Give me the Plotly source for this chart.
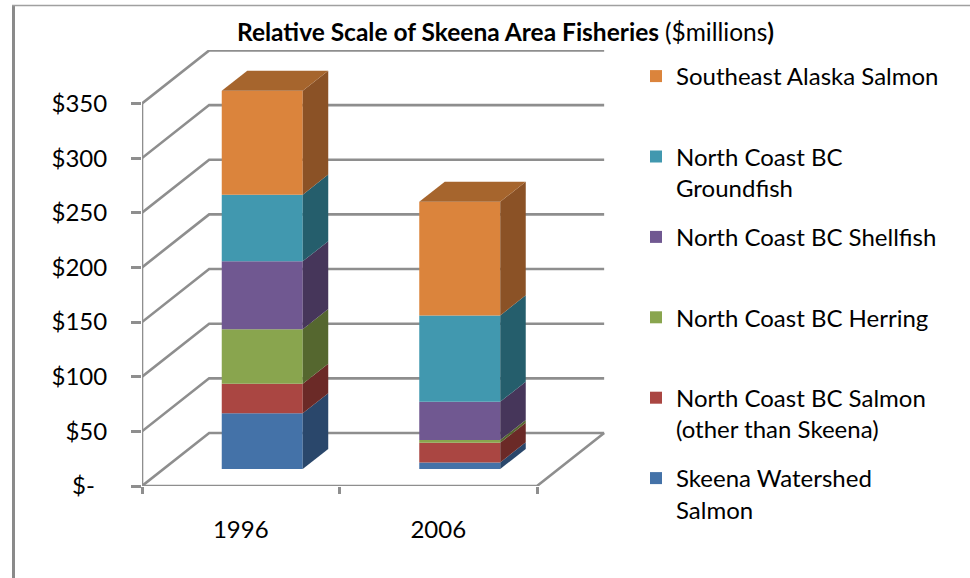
import plotly.graph_objects as go

# ---------------- data ($ millions) ----------------
years = ["1996", "2006"]
skeena_watershed_salmon = [51, 6]
nc_bc_salmon_other = [27, 18]
nc_bc_herring = [50, 2.5]
nc_bc_shellfish = [62, 35]
nc_bc_groundfish = [61, 79]
se_alaska_salmon = [95, 104]

series_names = [
    "Skeena Watershed<br>Salmon",
    "North Coast BC Salmon<br>(other than Skeena)",
    "North Coast BC Herring<br>\u00a0",
    "North Coast BC Shellfish<br>\u00a0",
    "North Coast BC<br>Groundfish",
    "Southeast Alaska Salmon<br>\u00a0",
]
series_values = [skeena_watershed_salmon, nc_bc_salmon_other, nc_bc_herring,
                 nc_bc_shellfish, nc_bc_groundfish, se_alaska_salmon]

y_tick_values = [0, 50, 100, 150, 200, 250, 300, 350]
y_tick_labels = ["$-\u00a0\u00a0", "$50", "$100", "$150", "$200", "$250", "$300", "$350"]

# ---------------- styles ----------------
front_colors = ["rgb(68,114,168)", "rgb(170,70,66)", "rgb(137,165,78)",
                "rgb(112,88,145)", "rgb(65,152,175)", "rgb(219,132,60)"]
side_colors = ["rgb(42,71,107)", "rgb(107,42,39)", "rgb(85,103,47)",
               "rgb(70,54,90)", "rgb(37,94,108)", "rgb(139,82,38)"]
top_color = "rgb(166,101,45)"
grid_color = "#8e8e8e"
FONT = "Lato"

# oblique "3-D" projection: depth vector in data units
KX = 0.34      # x shift for full depth (category units)
KY = 48.5      # y shift for full depth ($ units)
D0, D1 = 0.32, 0.70   # bar front / back depth
BAR_W = 0.41

# pixel layout of plot area
ML, MR_PX, MT, MB = 142, 607, 50, 92
W, H = 970, 578
PW = MR_PX - ML
PH = H - MT - MB
X_RANGE = [0, PW / 197.5]
Y_RANGE = [0, PH / 1.093]

fig = go.Figure()

n_cat = len(years)
cat_front = [i + 0.5 for i in range(n_cat)]
bar_x = [c + D0 * KX for c in cat_front]
dd = D1 - D0

cum = [0.0] * n_cat
side_traces = []
for s, (name, vals) in enumerate(zip(series_names, series_values)):
    base = [cum[i] + D0 * KY for i in range(n_cat)]
    clean = name.replace("<br>\u00a0", "").replace("<br>", " ")
    fig.add_trace(go.Bar(
        x=bar_x, y=vals, base=base, width=BAR_W, name=name,
        marker=dict(color=front_colors[s], line=dict(width=0)),
        legendgroup=f"g{s}", legendrank=len(series_names) - s, showlegend=True,
        hovertemplate=f"{clean}<br>%{{customdata}}: $%{{y}}M<extra></extra>",
        customdata=years,
    ))
    # right side faces
    for i in range(n_cat):
        xr = bar_x[i] + BAR_W / 2
        b = base[i]
        t = base[i] + vals[i]
        side_traces.append(go.Scatter(
            x=[xr, xr + dd * KX, xr + dd * KX, xr, xr],
            y=[b, b + dd * KY, t + dd * KY, t, b],
            fill="toself", fillcolor=side_colors[s], mode="lines",
            line=dict(width=0, color=side_colors[s]),
            showlegend=False, hoverinfo="skip",
        ))
    cum = [cum[i] + vals[i] for i in range(n_cat)]

# top faces of the stacks
for i in range(n_cat):
    xl = bar_x[i] - BAR_W / 2
    xr = bar_x[i] + BAR_W / 2
    T = cum[i] + D0 * KY
    side_traces.append(go.Scatter(
        x=[xl, xl + dd * KX, xr + dd * KX, xr, xl],
        y=[T, T + dd * KY, T + dd * KY, T, T],
        fill="toself", fillcolor=top_color, mode="lines",
        line=dict(width=0, color=top_color),
        showlegend=False, hoverinfo="skip",
    ))
for tr in side_traces:
    fig.add_trace(tr)

# walls / floor / gridlines as shapes below the traces
shapes = []
gl = dict(color=grid_color, width=2.6)
for v in y_tick_values:
    shapes.append(dict(type="path", xref="x", yref="y", layer="below",
                       path=f"M 0,{v} L {KX},{v + KY} L {n_cat + KX},{v + KY}",
                       line=gl))
# floor front edge, right edge, vertical axis line
shapes.append(dict(type="path", xref="x", yref="y", layer="below",
                   path=f"M 0,0 L {n_cat},0 L {n_cat + KX},{KY}", line=gl))
shapes.append(dict(type="line", xref="x", yref="y", layer="below",
                   x0=0, x1=0, y0=0, y1=y_tick_values[-1], line=gl))


def px_x(p):
    return (p - ML) / PW


def px_y(p):
    return (H - MB - p) / PH


# outer chart border (left and top)
shapes.append(dict(type="line", xref="paper", yref="paper",
                   x0=px_x(13.5), x1=px_x(13.5), y0=px_y(5), y1=px_y(580),
                   line=dict(color="#8a8a8a", width=3)))
shapes.append(dict(type="line", xref="paper", yref="paper",
                   x0=px_x(12), x1=px_x(972), y0=px_y(5.5), y1=px_y(5.5),
                   line=dict(color="#a0a0a0", width=1.5)))

fig.update_layout(
    width=W, height=H,
    margin=dict(l=ML, r=W - MR_PX, t=MT, b=MB, autoexpand=False),
    paper_bgcolor="white", plot_bgcolor="white",
    font=dict(family=FONT, size=24, color="black"),
    barmode="overlay",
    shapes=shapes,
    title=dict(
        text="<b>Relative Scale of Skeena Area Fisheries </b>($millions<b>)</b>",
        font=dict(family=FONT, size=24.5, color="black"),
        xref="container", yref="container", x=237 / W, xanchor="left",
        y=1 - 32 / H, yanchor="middle",
    ),
    xaxis=dict(
        range=X_RANGE, tickvals=cat_front, ticktext=years,
        ticks="", ticklen=0, showgrid=False, zeroline=False, showline=False,
        ticklabelstandoff=27,
        minor=dict(tickvals=[0, 1, 2], ticks="outside", ticklen=7,
                   tickwidth=2.5, tickcolor=grid_color, showgrid=False),
        fixedrange=True,
    ),
    yaxis=dict(
        range=Y_RANGE, tickvals=y_tick_values, ticktext=y_tick_labels,
        ticks="outside", ticklen=10, tickwidth=2.5, tickcolor=grid_color,
        showgrid=False, zeroline=False, showline=False,
        ticklabelstandoff=19, fixedrange=True,
    ),
    legend=dict(
        traceorder="grouped", tracegroupgap=15, valign="top",
        x=636 / W, xanchor="left", xref="container",
        y=1 - 54 / H, yanchor="top", yref="container",
        maxheight=560,
        font=dict(family=FONT, size=24, color="black"),
        bgcolor="rgba(0,0,0,0)",
    ),
    showlegend=True,
)

fig.write_html("out.html",
               config={"displayModeBar": False},
               post_script="document.body.style.margin='0';document.body.style.overflow='hidden';")
